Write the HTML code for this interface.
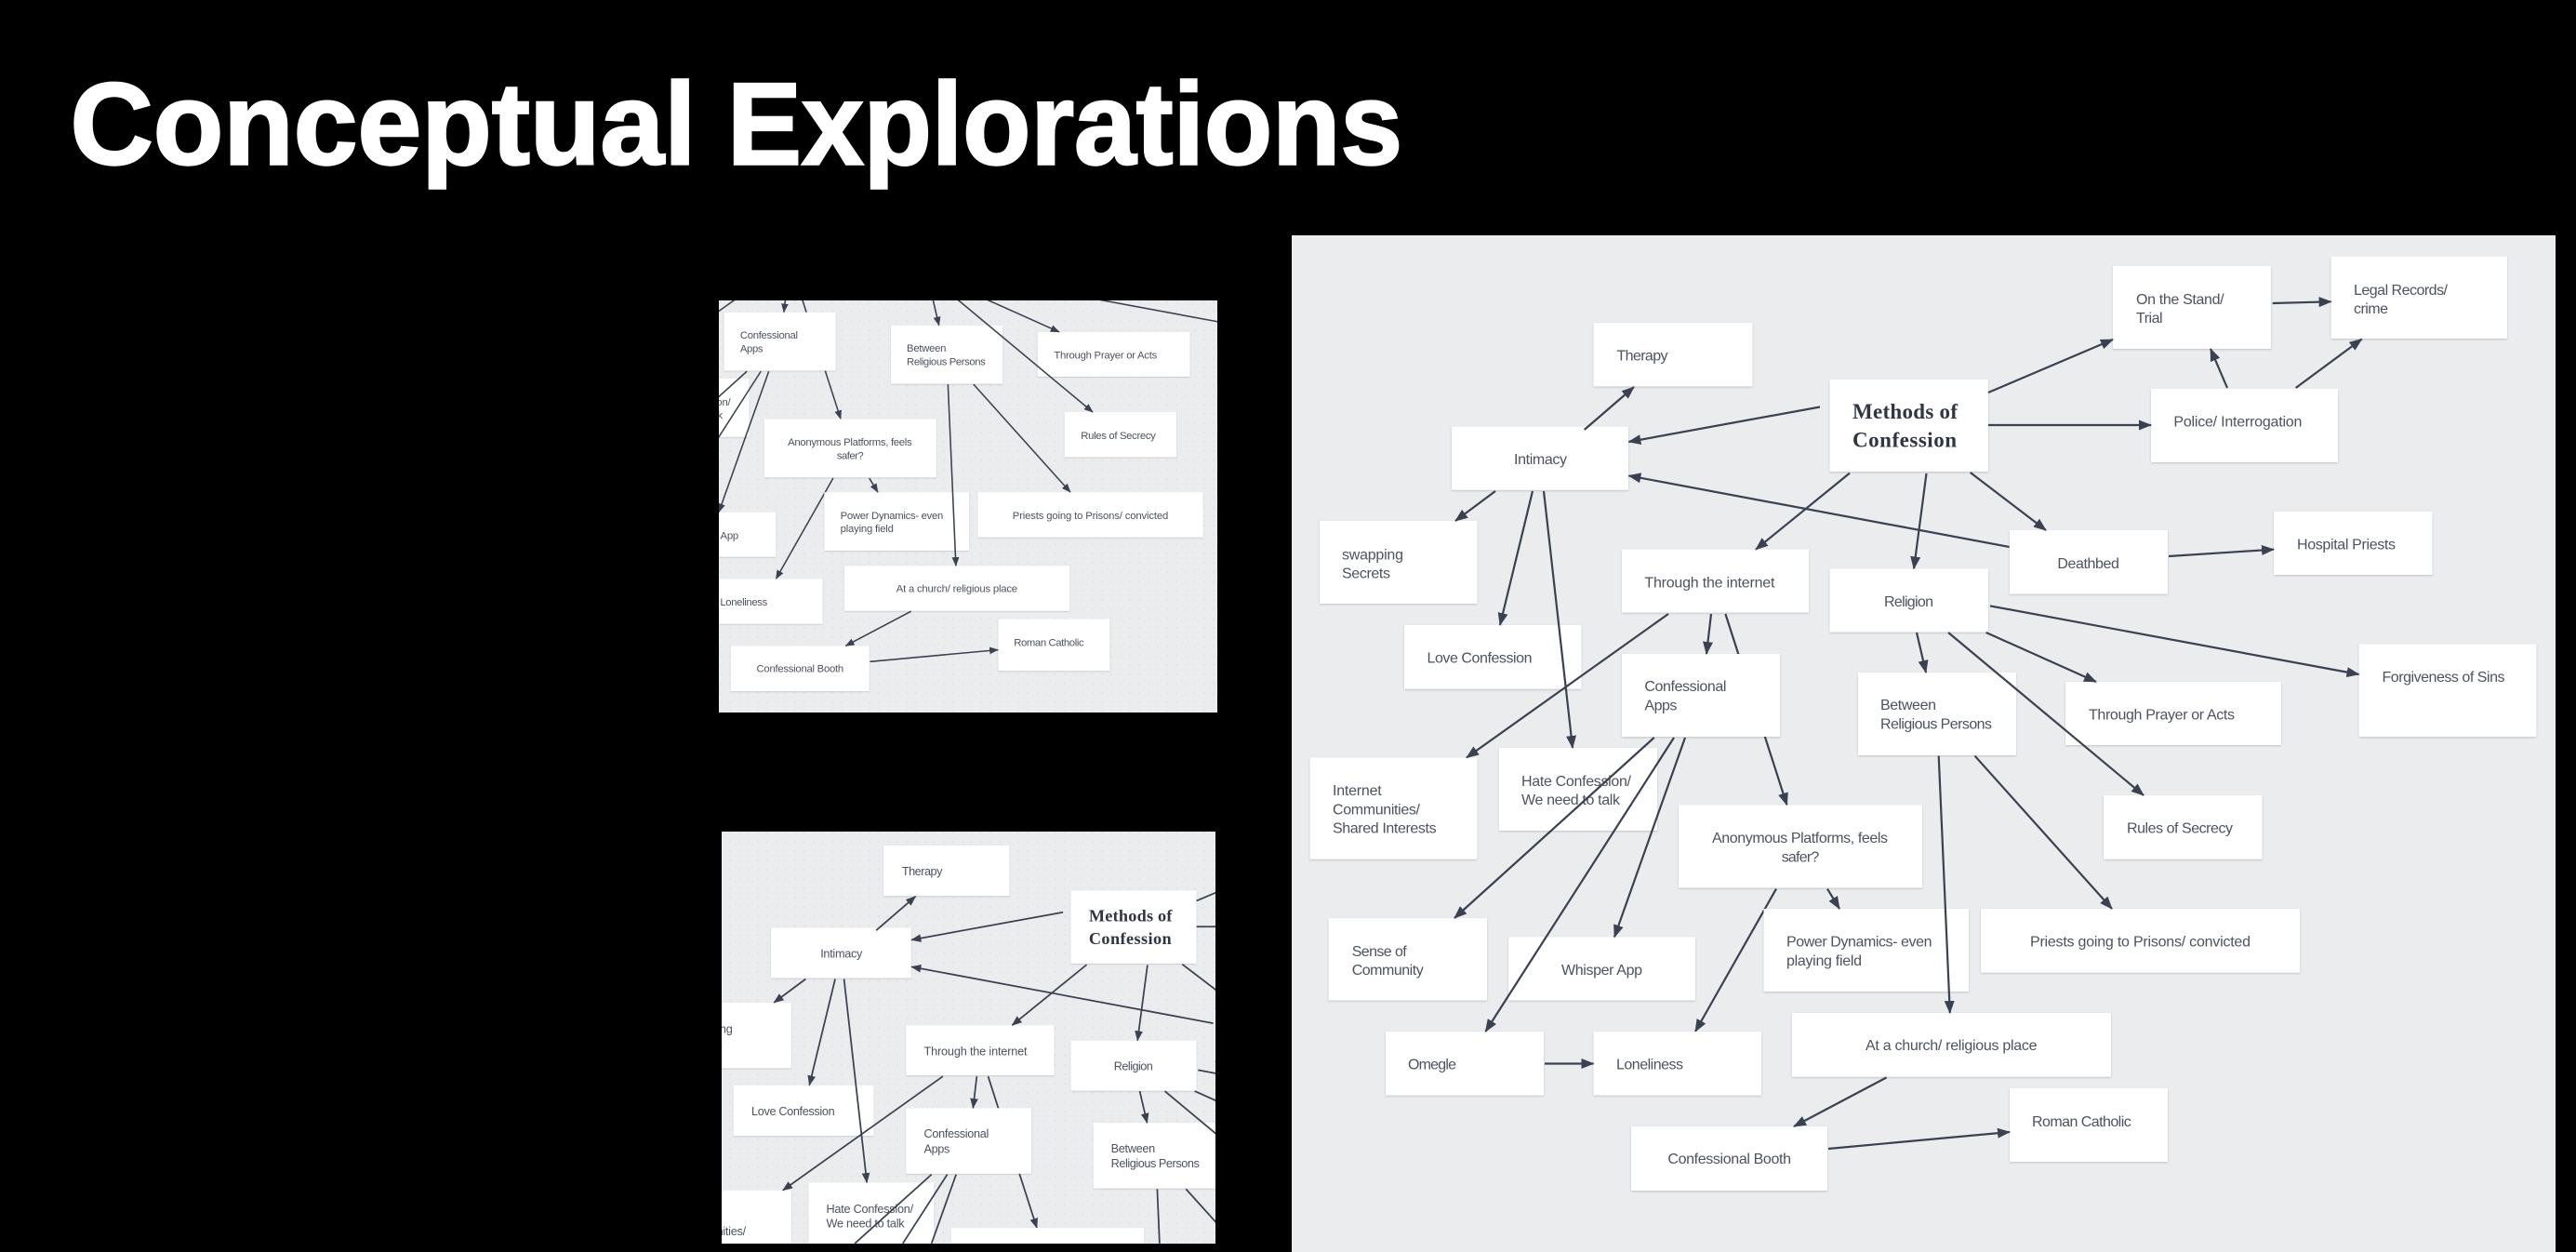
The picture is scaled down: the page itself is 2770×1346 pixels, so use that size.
<!DOCTYPE html>
<html><head><meta charset="utf-8"><title>Conceptual Explorations</title>
<style>
html,body{margin:0;padding:0;background:#000;width:2770px;height:1346px;overflow:hidden}
svg{display:block}
.t{font:16px "Liberation Sans",sans-serif;fill:#4d5260;filter:blur(.35px)}
.h{font:bold 23px "Liberation Serif",serif;fill:#2f3542;filter:blur(.3px)}
.l line{stroke:#3a4150;stroke-width:2.2;marker-end:url(#a)}
.n line{stroke:#3a4150;stroke-width:2.2}
.b rect{fill:#fff}
.b{filter:drop-shadow(0 1px 1px rgba(40,50,70,.22))}
.title{font:bold 125px "Liberation Sans",sans-serif;fill:#fff;stroke:#fff;stroke-width:2.4}
</style></head><body>
<svg xmlns="http://www.w3.org/2000/svg" width="2770" height="1346" viewBox="0 0 2770 1346">
<defs>
<marker id="a" markerUnits="userSpaceOnUse" markerWidth="14" markerHeight="11" refX="13" refY="5.5" orient="auto"><path d="M0,0 L14,5.5 L0,11 Z" fill="#3a4150"/></marker>
<pattern id="dots" width="10" height="10" patternUnits="userSpaceOnUse"><rect width="10" height="10" fill="#ebecee"/><circle cx="5" cy="5" r="0.8" fill="#dcdee2"/></pattern>
<clipPath id="c1"><rect x="773" y="323" width="536" height="443"/></clipPath>
<clipPath id="c2"><rect x="776" y="894" width="531" height="443"/></clipPath>
<g id="under1" class="l">
<line x1="1855.4" y1="660" x2="1921.5" y2="865.5"/>
</g>
<g id="under2" class="l">
<line x1="1910" y1="955.6" x2="1823" y2="1109"/>
</g>
<g id="boxesA" class="b">
<rect x="1713.5" y="347" width="171" height="68.4"/>
<rect x="1561" y="458.6" width="190" height="68.2"/>
<rect x="1419" y="560" width="169.5" height="89"/>
<rect x="1510" y="672" width="190.5" height="68.7"/>
<rect x="1744" y="590.7" width="201" height="67.9"/>
<rect x="1744" y="703" width="170" height="89"/>
<rect x="1967.5" y="408" width="170.5" height="99"/>
<rect x="1967.5" y="611.4" width="170.5" height="68.2"/>
<rect x="1998" y="723" width="170" height="89"/>
<rect x="2272" y="286" width="170" height="89"/>
<rect x="2506.6" y="275.7" width="189.4" height="88.3"/>
<rect x="2313" y="418" width="201" height="79"/>
<rect x="2161" y="570" width="170" height="68.6"/>
<rect x="2445" y="550" width="170.5" height="68"/>
<rect x="2536.5" y="692.5" width="191" height="99.5"/>
<rect x="2221" y="733" width="232" height="68"/>
</g>
<g id="boxesB" class="b">
<rect x="1408.6" y="814.5" width="179.9" height="109.2"/>
<rect x="1611.7" y="804" width="170.3" height="89"/>
<rect x="1805" y="865.5" width="262" height="89"/>
<rect x="1428.7" y="987" width="170.3" height="88.5"/>
<rect x="1622" y="1007.4" width="201" height="68.1"/>
<rect x="1896.5" y="977" width="220.5" height="89"/>
<rect x="1490" y="1109" width="170" height="68.6"/>
<rect x="1713.5" y="1109" width="180.5" height="68.6"/>
<rect x="1927" y="1089" width="343" height="68.7"/>
<rect x="1754" y="1211" width="211" height="69"/>
<rect x="2262" y="855" width="170.5" height="68.7"/>
<rect x="2130" y="977" width="343" height="68.7"/>
<rect x="2161" y="1170" width="170" height="79"/>
</g>
<g id="over1" class="l">
<line x1="1703.7" y1="462" x2="1757" y2="416"/>
<line x1="1957" y1="437.5" x2="1751.4" y2="475"/>
<line x1="2160.6" y1="588" x2="1751.4" y2="511.4"/>
<line x1="1608" y1="528" x2="1565" y2="560"/>
<line x1="1648" y1="528" x2="1613" y2="672"/>
<line x1="1660" y1="528" x2="1691" y2="804"/>
<line x1="1989" y1="508.6" x2="1888" y2="590.7"/>
<line x1="2071.5" y1="509" x2="2058" y2="611.4"/>
<line x1="1794" y1="660" x2="1577" y2="814.5"/>
<line x1="1840" y1="660" x2="1835" y2="703"/>
<line x1="2061" y1="680" x2="2071" y2="723"/>
<line x1="2135.6" y1="680" x2="2254" y2="733"/>
<line x1="2095" y1="680" x2="2305" y2="855"/>
<line x1="2140" y1="651.4" x2="2536.5" y2="725"/>
<line x1="2138" y1="422" x2="2272" y2="365"/>
<line x1="2138" y1="457" x2="2313" y2="457"/>
<line x1="2118.7" y1="508" x2="2200" y2="570"/>
<line x1="2395" y1="417" x2="2377" y2="375"/>
<line x1="2468.7" y1="417" x2="2539.6" y2="364.6"/>
<line x1="2443.7" y1="326" x2="2506.6" y2="324.3"/>
<line x1="2332" y1="598" x2="2445" y2="590.7"/>
</g>
<g id="over2" class="l">
<line x1="1778.7" y1="793" x2="1564" y2="987"/>
<line x1="1800" y1="793" x2="1597.4" y2="1109"/>
<line x1="1812" y1="793" x2="1736" y2="1007.4"/>
<line x1="1965" y1="955.6" x2="1978" y2="977"/>
<line x1="1661" y1="1143.5" x2="1713.5" y2="1143.5"/>
<line x1="2028.6" y1="1158.4" x2="1929" y2="1211"/>
<line x1="1966" y1="1235" x2="2161" y2="1217"/>
<line x1="2084.7" y1="812.7" x2="2096.8" y2="1089"/>
<line x1="2123.6" y1="812.7" x2="2271" y2="977"/>
</g>
</defs>

<rect width="2770" height="1346" fill="#000"/>
<text class="title" x="75.5" y="176.7" textLength="673" lengthAdjust="spacingAndGlyphs">Conceptual</text>
<text class="title" x="782" y="176.7" textLength="726" lengthAdjust="spacingAndGlyphs">Explorations</text>

<!-- top small panel -->
<rect x="773" y="323" width="536" height="443" fill="url(#dots)"/>
<g clip-path="url(#c1)"><g transform="translate(-453.7 -160.6) scale(.7066 .706)">
<use href="#under1"/><use href="#under2"/><use href="#boxesA"/><use href="#boxesB"/>
<g class="t">
<text x="1768.4" y="743" textLength="88">Confessional</text><text x="1768.4" y="763.5" textLength="35">Apps</text>
<text x="1636" y="845" textLength="118">Hate Confession/</text><text x="1636" y="865" textLength="106">We need to talk</text>
<text x="2022" y="763" textLength="60">Between</text><text x="2022" y="783.5" textLength="120">Religious Persons</text>
<text x="2246" y="773.6" textLength="157">Through Prayer or Acts</text>
<text x="2287" y="895.7" textLength="114">Rules of Secrecy</text>
<text x="1841" y="906" textLength="189">Anonymous Platforms, feels</text><text x="1915.7" y="926.5" textLength="40.6">safer?</text>
<text x="1679" y="1048" textLength="87">Whisper App</text>
<text x="1921" y="1017.7" textLength="156.5">Power Dynamics- even</text><text x="1921" y="1038" textLength="81">playing field</text>
<text x="2183" y="1017.7" textLength="237">Priests going to Prisons/ convicted</text>
<text x="1738" y="1149.6" textLength="72">Loneliness</text>
<text x="2006" y="1129" textLength="184.5">At a church/ religious place</text>
<text x="1793.4" y="1251" textLength="132.6">Confessional Booth</text>
<text x="2185" y="1211" textLength="106.7">Roman Catholic</text>
</g>
<use href="#over1"/><use href="#over2"/>
</g></g>

<!-- bottom small panel -->
<rect x="776" y="894" width="531" height="443" fill="url(#dots)"/>
<g clip-path="url(#c2)"><g transform="translate(-408.8 633.8) scale(.793)">
<use href="#under1"/><use href="#boxesA"/>
<g class="b">
<rect x="1408.6" y="814.5" width="179.9" height="72"/>
<rect x="1611.7" y="804" width="170.3" height="82.5"/>
<rect x="1805" y="865.5" width="262" height="21"/>
</g>
<g class="t">
<text x="1738.5" y="387.5" textLength="55">Therapy</text>
<text x="1628" y="499" textLength="57">Intimacy</text>
<text x="1443" y="601.4" textLength="66">swapping</text><text x="1443" y="621.4" textLength="52">Secrets</text>
<text x="1534.5" y="712.5" textLength="113">Love Confession</text>
<text x="1768.4" y="631.4" textLength="140">Through the internet</text>
<text x="1768.4" y="743" textLength="88">Confessional</text><text x="1768.4" y="763.5" textLength="35">Apps</text>
<text x="2026" y="651.8" textLength="53">Religion</text>
<text x="2022" y="763" textLength="60">Between</text><text x="2022" y="783.5" textLength="120">Religious Persons</text>
<text x="1433" y="875.5" textLength="94">Communities/</text>
<text x="1636" y="845" textLength="118">Hate Confession/</text><text x="1636" y="865" textLength="106">We need to talk</text>
</g>
<g class="h"><text x="1992" y="450" textLength="113">Methods of</text><text x="1992" y="480.7" textLength="112">Confession</text></g>
<use href="#over1"/>
<g class="n">
<line x1="1778.7" y1="793" x2="1674.7" y2="886.5"/>
<line x1="1800" y1="793" x2="1739.7" y2="886.5"/>
<line x1="1812" y1="793" x2="1778.7" y2="886.5"/>
<line x1="2084.7" y1="812.7" x2="2087.9" y2="886.5"/>
<line x1="2123.6" y1="812.7" x2="2190.3" y2="886.5"/>
</g>
</g></g>

<!-- big panel -->
<rect x="1389" y="253" width="1359" height="1093" fill="#ebecee"/>
<use href="#under1"/><use href="#under2"/><use href="#boxesA"/><use href="#boxesB"/>
<g class="t">
<text x="1738.5" y="387.5" textLength="55">Therapy</text>
<text x="1628" y="499" textLength="57">Intimacy</text>
<text x="1443" y="601.4" textLength="66">swapping</text><text x="1443" y="621.4" textLength="52">Secrets</text>
<text x="1534.5" y="712.5" textLength="113">Love Confession</text>
<text x="1768.4" y="631.4" textLength="140">Through the internet</text>
<text x="1768.4" y="743" textLength="88">Confessional</text><text x="1768.4" y="763.5" textLength="35">Apps</text>
<text x="2026" y="651.8" textLength="53">Religion</text>
<text x="2022" y="763" textLength="60">Between</text><text x="2022" y="783.5" textLength="120">Religious Persons</text>
<text x="2297" y="326.8" textLength="94.6">On the Stand/</text><text x="2297" y="347" textLength="28.6">Trial</text>
<text x="2531" y="316.8" textLength="101">Legal Records/</text><text x="2531" y="337" textLength="37">crime</text>
<text x="2337.4" y="458.6" textLength="138">Police/ Interrogation</text>
<text x="2212.4" y="611" textLength="66.5">Deathbed</text>
<text x="2470" y="590.7" textLength="106">Hospital Priests</text>
<text x="2561.5" y="733" textLength="132">Forgiveness of Sins</text>
<text x="2246" y="773.6" textLength="157">Through Prayer or Acts</text>
<text x="1433" y="855" textLength="52.7">Internet</text><text x="1433" y="875.5" textLength="94">Communities/</text><text x="1433" y="895.7" textLength="111.6">Shared Interests</text>
<text x="1636" y="845" textLength="118">Hate Confession/</text><text x="1636" y="865" textLength="106">We need to talk</text>
<text x="1841" y="906" textLength="189">Anonymous Platforms, feels</text><text x="1915.7" y="926.5" textLength="40.6">safer?</text>
<text x="1453.7" y="1028" textLength="59">Sense of</text><text x="1453.7" y="1048" textLength="77">Community</text>
<text x="1679" y="1048" textLength="87">Whisper App</text>
<text x="1921" y="1017.7" textLength="156.5">Power Dynamics- even</text><text x="1921" y="1038" textLength="81">playing field</text>
<text x="1514" y="1149.6" textLength="52">Omegle</text>
<text x="1738" y="1149.6" textLength="72">Loneliness</text>
<text x="2006" y="1129" textLength="184.5">At a church/ religious place</text>
<text x="1793.4" y="1251" textLength="132.6">Confessional Booth</text>
<text x="2287" y="895.7" textLength="114">Rules of Secrecy</text>
<text x="2183" y="1017.7" textLength="237">Priests going to Prisons/ convicted</text>
<text x="2185" y="1211" textLength="106.7">Roman Catholic</text>
</g>
<g class="h"><text x="1992" y="450" textLength="113">Methods of</text><text x="1992" y="480.7" textLength="112">Confession</text></g>
<use href="#over1"/><use href="#over2"/>
</svg>
</body></html>
